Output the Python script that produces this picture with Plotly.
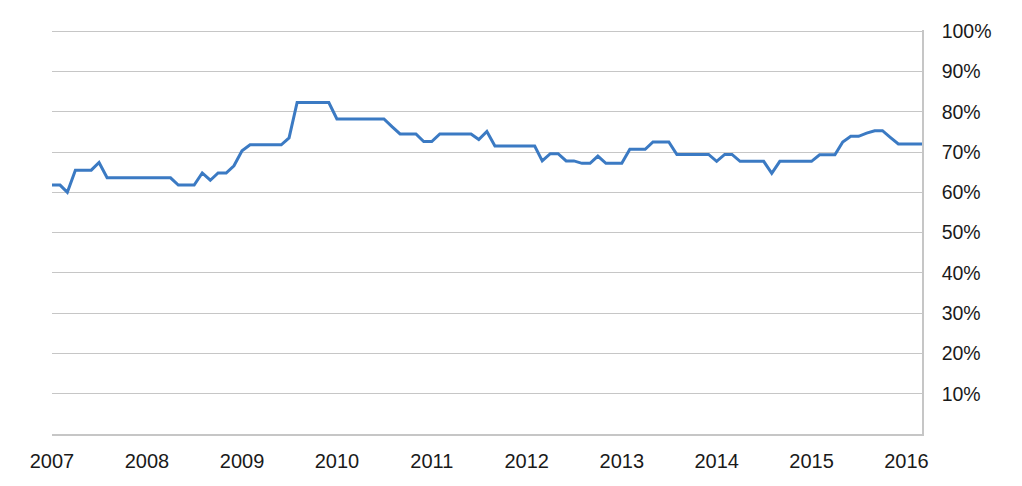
import pandas as pd
from plotly import graph_objects as go


# monthly share (Jan 2007 .. Mar 2016)
vals_2007 = [61.8, 61.8, 60.0, 65.5, 65.5, 65.5, 67.4, 63.6, 63.6, 63.6, 63.6, 63.6]
vals_2008 = [63.6, 63.6, 63.6, 63.6, 61.8, 61.8, 61.8, 64.8, 63.0, 64.8, 64.8, 66.6]
vals_2009 = [70.3, 71.8, 71.8, 71.8, 71.8, 71.8, 73.5, 82.3, 82.3, 82.3, 82.3, 82.3]
vals_2010 = [78.2, 78.2, 78.2, 78.2, 78.2, 78.2, 78.2, 76.3, 74.5, 74.5, 74.5, 72.6]
vals_2011 = [72.6, 74.5, 74.5, 74.5, 74.5, 74.5, 73.1, 75.1, 71.5, 71.5, 71.5, 71.5]
vals_2012 = [71.5, 71.5, 67.8, 69.6, 69.6, 67.8, 67.8, 67.2, 67.2, 69.0, 67.2, 67.2]
vals_2013 = [67.2, 70.7, 70.7, 70.7, 72.5, 72.5, 72.5, 69.4, 69.4, 69.4, 69.4, 69.4]
vals_2014 = [67.7, 69.4, 69.4, 67.7, 67.7, 67.7, 67.7, 64.7, 67.7, 67.7, 67.7, 67.7]
vals_2015 = [67.7, 69.3, 69.3, 69.3, 72.5, 73.9, 73.9, 74.7, 75.3, 75.3, 73.6, 72.0]
vals_2016 = [72.0, 72.0, 72.0]

values = (vals_2007 + vals_2008 + vals_2009 + vals_2010 + vals_2011
          + vals_2012 + vals_2013 + vals_2014 + vals_2015 + vals_2016)
months = pd.date_range("2007-01-01", periods=len(values), freq="MS")

year_ticks = [f"{y}-01-01" for y in range(2007, 2017)]
year_labels = [str(y) for y in range(2007, 2017)]
pct_ticks = [0.1 * i for i in range(1, 11)]
pct_labels = [f"{10 * i}%" for i in range(1, 11)]

grey = "#c6c6c6"
family = "Liberation Sans, Arial, sans-serif"

fig = go.Figure()
fig.add_trace(go.Scatter(
    x=months,
    y=[v / 100 for v in values],
    mode="lines",
    line=dict(color="#3b7ac3", width=3),
    showlegend=False,
    hoverinfo="skip",
))

# page body adds an 8px offset, margins compensate for it
fig.update_layout(
    width=1022,
    height=486,
    margin=dict(l=44, r=108, t=20, b=60),
    paper_bgcolor="white",
    plot_bgcolor="white",
    font=dict(family=family, size=19, color="#1a1a1a"),
)
fig.update_xaxes(
    type="date",
    range=[months[0], months[-1]],
    tickvals=year_ticks,
    ticktext=year_labels,
    tickfont=dict(size=20),
    showgrid=False,
    zeroline=False,
    showline=True,
    linecolor=grey,
    linewidth=1.5,
    ticks="",
    ticklabelstandoff=8,
)
fig.update_yaxes(
    side="right",
    range=[0, 1.003],
    tickvals=pct_ticks,
    ticktext=pct_labels,
    tickfont=dict(size=19.5),
    showgrid=True,
    gridcolor=grey,
    gridwidth=1.3,
    zeroline=False,
    showline=True,
    linecolor=grey,
    linewidth=1.5,
    ticks="",
    ticklabelstandoff=14,
)

fig.write_html("out.html")
